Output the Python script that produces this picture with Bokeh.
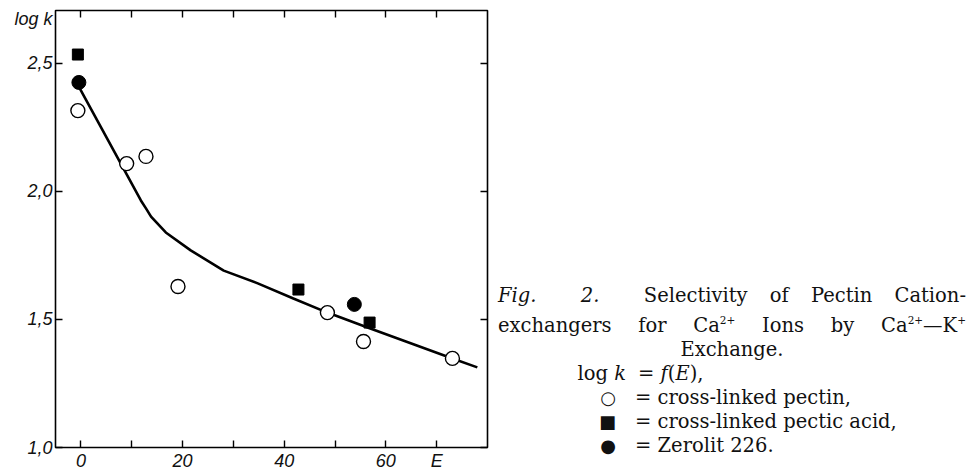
from bokeh.plotting import figure
from bokeh.models import FixedTicker, LinearAxis, Div, Range1d
from bokeh.layouts import row
from bokeh.embed import file_html
from bokeh.resources import INLINE

# ---- data ----
pectin_E = [-0.6, 9.0, 12.8, 19.1, 48.5, 55.6, 73.1]
pectin_logk = [2.316, 2.109, 2.137, 1.629, 1.527, 1.414, 1.348]

acid_E = [-0.6, 42.8, 56.8]
acid_logk = [2.535, 1.617, 1.488]

zerolit_E = [-0.4, 53.8]
zerolit_logk = [2.426, 1.559]

curve_E = [-0.2, 11.8, 12.8, 13.8, 16.7, 21.6, 28.1, 34.8, 41.8, 48.5, 56.4, 73.1, 78.0]
curve_logk = [2.402, 1.965, 1.934, 1.902, 1.840, 1.770, 1.691, 1.641, 1.582, 1.527, 1.469, 1.348, 1.313]

x_ticks = [0, 10, 20, 30, 40, 50, 60, 70]
x_labels = {0: "0", 10: "", 20: "20", 30: "", 40: "40", 50: "", 60: "60", 70: "E"}
y_ticks = [1.0, 1.5, 2.0, 2.5]
y_labels = {1.0: "1,0", 1.5: "1,5", 2.0: "2,0", 2.5: "2,5"}
y_title = "log k"
y_title_pos = 2.675

TICK_FONT = "Liberation Sans"

p = figure(width=493, height=474, output_backend="svg", toolbar_location=None,
           x_range=Range1d(-5, 80), y_range=Range1d(1.0, 2.707),
           x_axis_location=None, y_axis_location=None,
           min_border_left=55, min_border_right=6, min_border_top=10, min_border_bottom=27)
p.grid.visible = False
p.outline_line_color = "black"
p.outline_line_width = 1.6
p.background_fill_color = "white"
p.border_fill_color = "white"


def tick_axis(ticks):
    ax = LinearAxis(ticker=FixedTicker(ticks=ticks))
    ax.axis_line_color = None
    ax.major_tick_in = 7
    ax.major_tick_out = 0
    ax.major_tick_line_width = 1.4
    ax.minor_tick_line_color = None
    ax.major_label_overrides = {t: "" for t in ticks}
    ax.major_label_text_font_size = "0px"
    ax.major_label_standoff = 0
    return ax


def label_axis(ticks, overrides, size="18px"):
    ax = LinearAxis(ticker=FixedTicker(ticks=ticks))
    ax.axis_line_color = None
    ax.major_tick_line_color = None
    ax.major_tick_in = 0
    ax.major_tick_out = 0
    ax.minor_tick_line_color = None
    ax.major_label_overrides = overrides
    ax.major_label_text_font = TICK_FONT
    ax.major_label_text_font_style = "italic"
    ax.major_label_text_font_size = size
    ax.major_label_text_color = "#111111"
    ax.major_label_standoff = 3
    return ax


# tick marks on all four sides (pointing inward)
p.add_layout(tick_axis(x_ticks), "below")
p.add_layout(tick_axis(x_ticks), "above")
p.add_layout(tick_axis(y_ticks), "left")
p.add_layout(tick_axis(y_ticks), "right")

# tick labels
p.add_layout(label_axis(x_ticks, x_labels), "below")
left_labels = dict(y_labels)
left_labels[y_title_pos] = y_title
p.add_layout(label_axis(y_ticks + [y_title_pos], left_labels), "left")

# fitted curve
p.line(curve_E, curve_logk, line_color="black", line_width=2.6)

# data points
p.scatter(pectin_E, pectin_logk, marker="circle", size=14,
          fill_color="white", line_color="black", line_width=1.4)
p.scatter(acid_E, acid_logk, marker="square", size=11,
          fill_color="black", line_color="black")
p.scatter(zerolit_E, zerolit_logk, marker="circle", size=14,
          fill_color="black", line_color="black")

LAB = "display:inline-block; width:128px; text-align:right;"
SYM = ("display:inline-block; width:125px; padding-right:7px; text-align:right; "
       "font-family:'DejaVu Sans'; font-size:18px;")
GAP = "<span style='display:inline-block; width:12px'></span>"
SUP = "<sup style='font-size:10.5px'>"
caption = f"""
<div style="font-family:'DejaVu Serif', serif; font-size:19.5px; line-height:24px;
            color:#111; width:468px; padding-top:279px;">
  <div style="text-align:justify; text-align-last:justify;">
    <i>Fig.</i>&nbsp; <i>2.</i>&nbsp; Selectivity of Pectin Cation-</div>
  <div style="text-align:justify; text-align-last:justify;">
    exchangers for Ca{SUP}2+</sup> Ions by Ca{SUP}2+</sup>&mdash;K{SUP}+</sup></div>
  <div style="text-align:center;">Exchange.</div>
  <div><span style="{LAB}">log <i>k</i></span>{GAP}= <i>f</i>(<i>E</i>),</div>
  <div><span style="{SYM}">&#9675;</span>{GAP}= cross-linked pectin,</div>
  <div><span style="{SYM}">&#9632;</span>{GAP}= cross-linked pectic acid,</div>
  <div><span style="{SYM}">&#9679;</span>{GAP}= Zerolit 226.</div>
</div>
"""
div = Div(text=caption, width=478, height=474)

layout = row(p, div, spacing=0)

open("out.html", "w").write(file_html(layout, INLINE))
